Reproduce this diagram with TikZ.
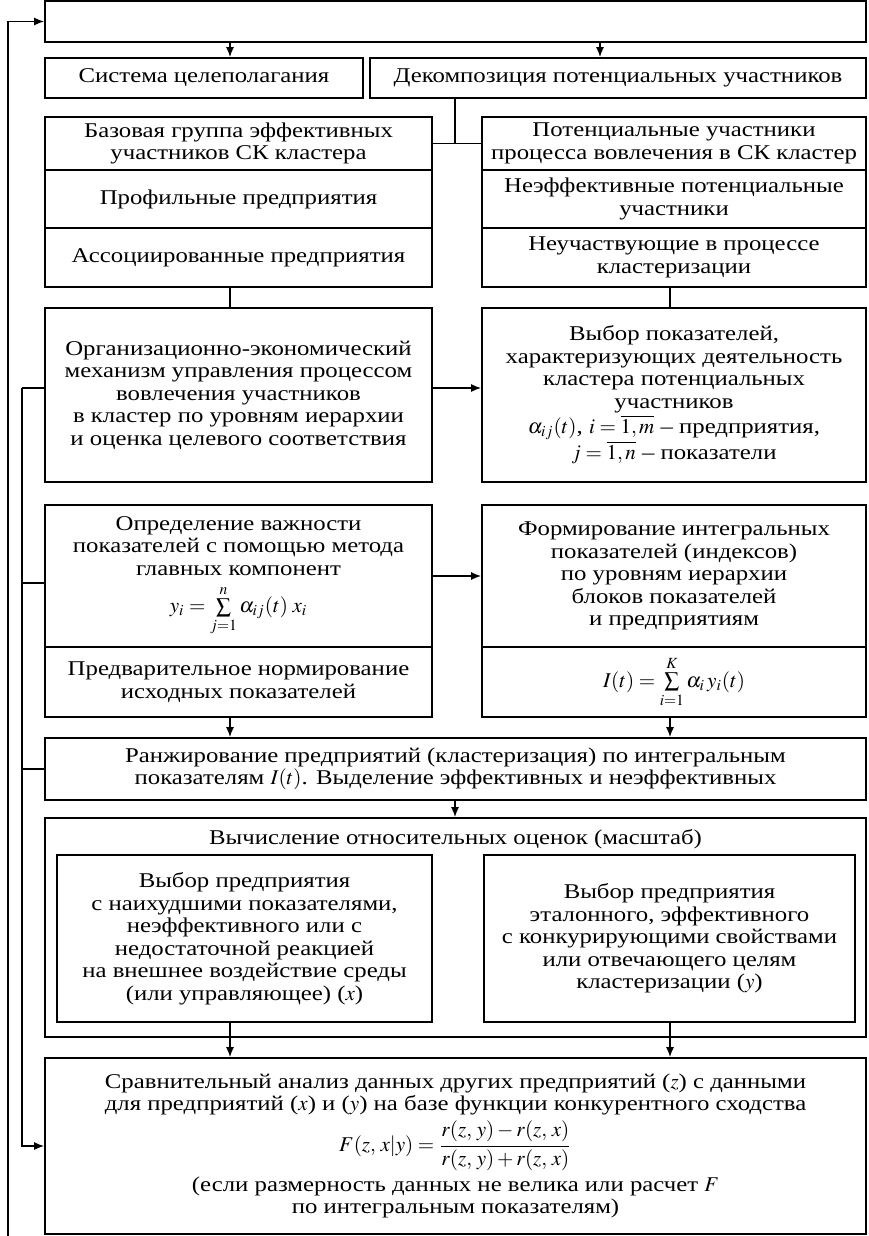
\documentclass[tikz,border=0pt]{standalone}
\usepackage{mathptmx}
\usepackage{fontspec}
\setmainfont{Liberation Serif}[FakeStretch=1.18]
\usetikzlibrary{arrows.meta,calc,positioning}
\tikzset{
	>={Latex[length=5pt,width=4pt]},
	blk/.style={rectangle, draw, line width=0.8pt, inner sep=1pt, align=center, font=\fontsize{10.5}{11.25}\selectfont},
	arr/.style={->, line width=0.8pt},
	lnk/.style={-, line width=0.8pt}
}

\begin{document}
\begin{tikzpicture}[x=0.5pt,y=-0.5pt]
	\tikzset{half/.style={blk, minimum width=193.5pt}}
	\tikzset{halfr/.style={blk, minimum width=192pt}}
	\tikzset{full/.style={blk, minimum width=410.5pt}}
	\useasboundingbox (0,0) rectangle (868,1236);
	% columns
	\coordinate (cL) at (230,0);
	\coordinate (cR) at (670,0);
	\coordinate (cT) at (600,0);
	\coordinate (cM) at (455,0);
	\coordinate (vx) at (22,0);
	\coordinate (fb) at (8,1236);
	% top rows
	\node[full, minimum height=20.5pt] (top) at (455.5,21.5) {};
	\node[blk, minimum width=159pt, minimum height=20pt] (sys) at (204,78) {Система целеполагания};
	\node[blk, minimum width=248pt, minimum height=20pt] (dec) at (618,78) {Декомпозиция потенциальных участников};
	\node[half, minimum height=26.5pt] (base) at (238.5,143.5) {Базовая группа эффективных\\участников СК кластера};
	\node[half, minimum height=29pt] (prof) at (238.5,199) {Профильные предприятия};
	\node[half, minimum height=29.5pt] (assoc) at (238.5,257.5) {Ассоциированные предприятия};
	\node[halfr, minimum height=26.5pt] (pot) at (674,143.5) {Потенциальные участники\\процесса вовлечения в СК кластер};
	\node[halfr, minimum height=29pt] (neff) at (674,199) {Неэффективные потенциальные\\участники};
	\node[halfr, minimum height=29.5pt] (nonp) at (674,257.5) {Неучаствующие в процессе\\кластеризации};
	% mechanism and indicators
	\node[half, minimum height=87pt] (org) at (238.5,395) {Организационно-экономический\\механизм управления процессом\\вовлечения участников\\в кластер по уровням иерархии\\и оценка целевого соответствия};
	\node[halfr, minimum height=87pt] (vyb) at (674,395) {Выбор показателей,\\характеризующих деятельность\\кластера потенциальных\\участников\\$\alpha_{ij}(t)$, $i=\overline{1,m}$ -- предприятия,\\$j=\overline{1,n}$ -- показатели};
	\node[half, minimum height=71pt] (opr) at (238.5,576) {Определение важности\\показателей с помощью метода\\главных компонент\\[4pt]$y_i=\sum\limits_{j=1}^{n}\alpha_{ij}(t)\;x_i$};
	\node[half, minimum height=35pt] (norm) at (238.5,682) {Предварительное нормирование\\исходных показателей};
	\node[halfr, minimum height=71pt] (form) at (674,576) {Формирование интегральных\\показателей (индексов)\\по уровням иерархии\\блоков показателей\\и предприятиям};
	\node[halfr, minimum height=35pt] (isum) at (674,682) {$I(t)=\sum\limits_{i=1}^{K}\alpha_i\,y_i(t)$};
	\node[full, minimum height=31pt] (rank) at (455.5,769) {Ранжирование предприятий (кластеризация) по интегральным\\показателям $I(t)$. Выделение эффективных и неэффективных};
	% relative estimates
	\node[full, minimum height=109.5pt] (outer) at (455.5,927.5) {};
	\node[blk, draw=none] (outT) at (455.5,839) {Вычисление относительных оценок (масштаб)};
	\node[blk, minimum width=187.5pt, minimum height=83.5pt] (worst) at (244.5,938.5) {Выбор предприятия\\с наихудшими показателями,\\неэффективного или с\\недостаточной реакцией\\на внешнее воздействие среды\\(или управляющее) ($x$)};
	\node[blk, minimum width=185.5pt, minimum height=83.5pt] (best) at (669.5,938.5) {Выбор предприятия\\эталонного, эффективного\\с конкурирующими свойствами\\или отвечающего целям\\кластеризации ($y$)};
	\node[full, minimum height=88pt] (comp) at (455.5,1146) {Сравнительный анализ данных других предприятий ($z$) с данными\\для предприятий ($x$) и ($y$) на базе функции конкурентного сходства\\[2pt]$F(z,\,x|y)=\displaystyle\frac{r(z,\,y)-r(z,\,x)}{r(z,\,y)+r(z,\,x)}$\\[2pt](если размерность данных не велика или расчет $F$\\по интегральным показателям)};
	% connectors
	\draw[arr] (top.south -| cL) -- (sys.north -| cL);
	\draw[arr] (top.south -| cT) -- (dec.north -| cT);
	\draw[lnk] (dec.south -| cM) -- (base.east -| cM);
	\draw[lnk] (base.east) -- (pot.west);
	\draw[lnk] (assoc.south -| cL) -- (org.north -| cL);
	\draw[lnk] (nonp.south -| cR) -- (vyb.north -| cR);
	\draw[arr] ($(org.east)+(0,-7)$) -- ($(vyb.west)+(0,-7)$);
	\draw[arr] (opr.east) -- (form.west);
	\draw[arr] (norm.south -| cL) -- (rank.north -| cL);
	\draw[arr] (isum.south -| cR) -- (rank.north -| cR);
	\draw[arr] (rank.south -| cM) -- (outer.north -| cM);
	\draw[arr] (worst.south -| cL) -- (comp.north -| cL);
	\draw[arr] (best.south -| cR) -- (comp.north -| cR);
	% feedback lines
	\draw[arr] (fb) |- (top.west);
	\draw[lnk] ($(org.west)+(0,-7)$) -- ($(org.west -| vx)+(0,-7)$);
	\draw[arr] ($(org.west -| vx)+(0,-7)$) |- (comp.west);
	\draw[lnk] ($(opr.west -| vx)+(0,7)$) -- ($(opr.west)+(0,7)$);
	\draw[lnk] (rank.west -| vx) -- (rank.west);
\end{tikzpicture}
\end{document}
